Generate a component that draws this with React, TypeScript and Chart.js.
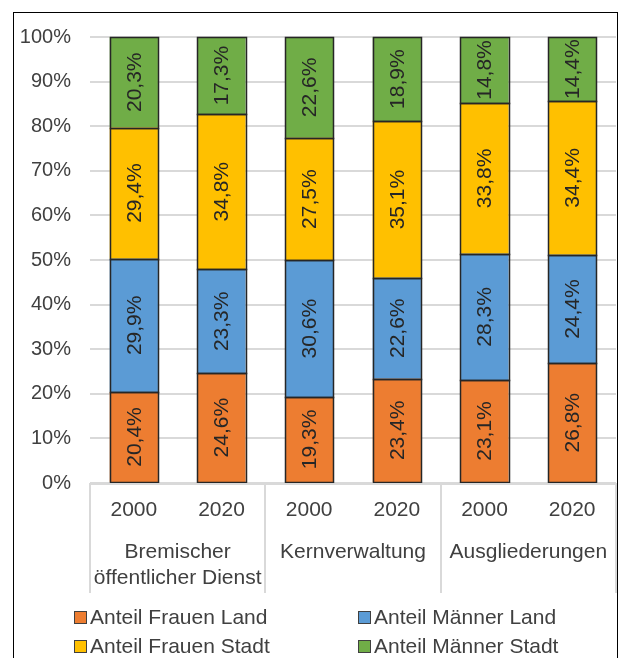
import React, { useEffect, useRef } from "react";
import { Chart, registerables } from "chart.js";

Chart.register(...registerables);

const years = ["2000", "2020", "2000", "2020", "2000", "2020"];
const groups = [["Bremischer", "öffentlicher Dienst"], ["Kernverwaltung"], ["Ausgliederungen"]];
const seriesNames = ["Anteil Frauen Land", "Anteil Männer Land", "Anteil Frauen Stadt", "Anteil Männer Stadt"];
const frauenLand = [20.4, 24.6, 19.3, 23.4, 23.1, 26.8];
const maennerLand = [29.9, 23.3, 30.6, 22.6, 28.3, 24.4];
const frauenStadt = [29.4, 34.8, 27.5, 35.1, 33.8, 34.4];
const maennerStadt = [20.3, 17.3, 22.6, 18.9, 14.8, 14.4];
const colors = ["#ED7D31", "#5B9BD5", "#FFC000", "#70AD47"];

const FONT = "'Liberation Sans', Arial, sans-serif";
const TEXT = "#404040";

const fmt = (v: number) => v.toFixed(1).replace(".", ",") + "%";

const customPlugin = {
  id: "custom",
  afterDatasetsDraw(chart: any) {
    const ctx = chart.ctx;
    ctx.save();
    // crisp borders
    ctx.strokeStyle = "#262626";
    ctx.lineWidth = 1.5;
    chart.data.datasets.forEach((ds: any, di: number) => {
      const meta = chart.getDatasetMeta(di);
      meta.data.forEach((el: any) => {
        const half = el.width / 2;
        const x0 = Math.round(el.x - half) + 0.5;
        const x1 = Math.round(el.x + half) + 0.5;
        const y0 = Math.round(el.y) + 0.5;
        const y1 = Math.round(el.base) + 0.5;
        ctx.strokeRect(x0, y0, x1 - x0, y1 - y0);
      });
    });
    ctx.font = `21px ${FONT}`;
    ctx.fillStyle = "#262626";
    ctx.textAlign = "center";
    ctx.textBaseline = "middle";
    chart.data.datasets.forEach((ds: any, di: number) => {
      const meta = chart.getDatasetMeta(di);
      meta.data.forEach((el: any, i: number) => {
        const cy = (el.y + el.base) / 2;
        ctx.save();
        ctx.translate(el.x, cy);
        ctx.rotate(-Math.PI / 2);
        ctx.fillText(fmt(ds.data[i]), 0, 1);
        ctx.restore();
      });
    });
    ctx.restore();
  },
  afterDraw(chart: any) {
    const ctx = chart.ctx;
    const area = chart.chartArea;
    const xs = chart.scales.x;
    const n = years.length;
    const w = (area.right - area.left) / n;
    ctx.save();
    // axis line
    ctx.strokeStyle = "#D9D9D9";
    ctx.lineWidth = 2;
    ctx.beginPath();
    ctx.moveTo(area.left, Math.round(area.bottom) + 1);
    ctx.lineTo(area.right, Math.round(area.bottom) + 1);
    ctx.stroke();
    // separators
    [0, 2, 4, 6].forEach((k) => {
      const x = Math.round(area.left + k * w);
      ctx.beginPath();
      ctx.moveTo(x, area.bottom);
      ctx.lineTo(x, area.bottom + 110);
      ctx.stroke();
    });
    // year labels
    ctx.font = `21px ${FONT}`;
    ctx.fillStyle = TEXT;
    ctx.textAlign = "center";
    ctx.textBaseline = "middle";
    years.forEach((y, i) => {
      ctx.fillText(y, xs.getPixelForValue(i), area.bottom + 27);
    });
    // group labels
    groups.forEach((lines, g) => {
      const cx = area.left + (2 * g + 1) * w;
      lines.forEach((t, li) => {
        ctx.fillText(t, cx, area.bottom + 69 + li * 26);
      });
    });
    // legend
    const legendPos = [
      [74, 617],
      [358, 617],
      [74, 646],
      [358, 646],
    ];
    ctx.textAlign = "left";
    ctx.lineWidth = 1;
    seriesNames.forEach((name, i) => {
      const [lx, ly] = legendPos[i];
      ctx.fillStyle = colors[i];
      ctx.fillRect(lx, ly - 6, 13, 13);
      ctx.strokeStyle = "#404040";
      ctx.strokeRect(lx + 0.5, ly - 5.5, 12, 12);
      ctx.fillStyle = TEXT;
      ctx.fillText(name, lx + 16, ly + 1);
    });
    // frame
    ctx.strokeStyle = "#000000";
    ctx.lineWidth = 1;
    ctx.strokeRect(13.5, 12.5, 604, 700);
    ctx.restore();
  },
};

export default function App() {
  const ref = useRef<HTMLCanvasElement>(null);
  useEffect(() => {
    if (!ref.current) return;
    const datasets = [frauenLand, maennerLand, frauenStadt, maennerStadt].map((d, i) => ({
      label: seriesNames[i],
      data: d,
      backgroundColor: colors[i],
      borderWidth: 0,
      categoryPercentage: 1,
      barPercentage: 0.55,
    }));
    const chart = new Chart(ref.current, {
      type: "bar",
      data: { labels: years.map((y, i) => y + "-" + i), datasets },
      options: {
        animation: false,
        responsive: false,
        layout: { padding: { left: 14, right: 3, top: 37, bottom: 175 } },
        plugins: { legend: { display: false }, tooltip: { enabled: false } },
        scales: {
          x: { stacked: true, display: false },
          y: {
            stacked: true,
            min: 0,
            max: 100,
            border: { display: false },
            grid: { color: "#D9D9D9", lineWidth: 2, drawTicks: false },
            afterFit: (s: any) => {
              s.width = 76;
            },
            ticks: {
              stepSize: 10,
              padding: 19,
              color: TEXT,
              font: { family: FONT, size: 20 },
              callback: (v: any) => v + "%",
            },
          },
        },
      },
      plugins: [customPlugin],
    });
    return () => chart.destroy();
  }, []);
  return (
    <div style={{ position: "absolute", left: 0, top: 0, width: 619, height: 658, background: "#fff" }}>
      <canvas ref={ref} width={619} height={658} style={{ width: 619, height: 658 }} />
    </div>
  );
}
